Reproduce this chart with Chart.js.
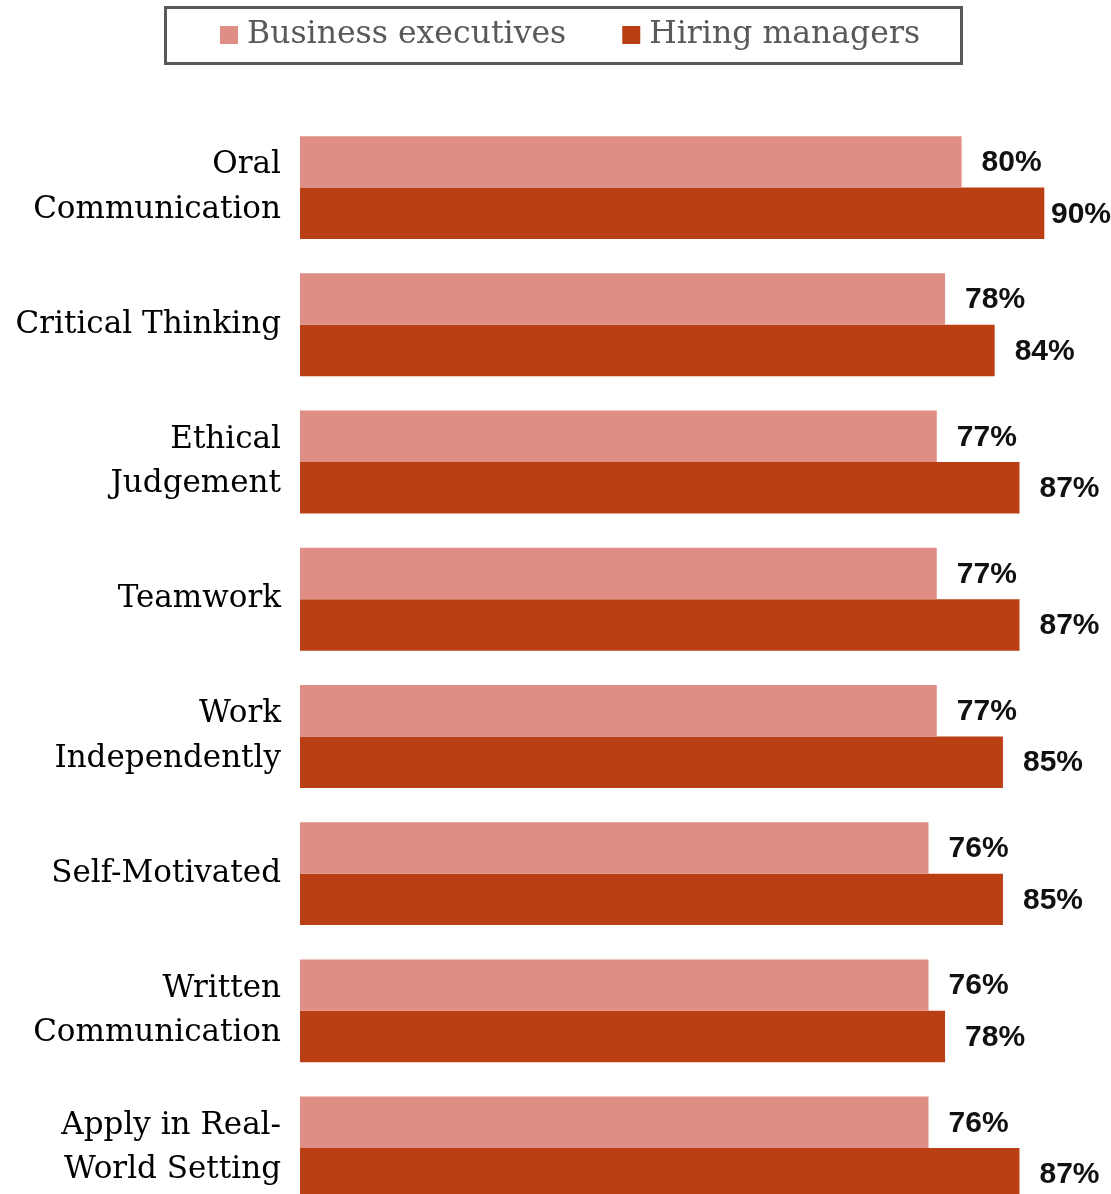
<!DOCTYPE html>
<html>
<head>
<meta charset="utf-8">
<script src="https://cdn.jsdelivr.net/npm/chart.js@4.4.1/dist/chart.umd.min.js"></script>
<style>
  html, body { margin: 0; padding: 0; background: #fff; overflow: hidden; }
  #wrap { width: 1111px; height: 1194px; overflow: hidden; }
</style>
</head>
<body>
<div id="wrap"><canvas id="skills_chart" width="1127" height="1280"></canvas></div>
<script>
// skill categories (multi-line labels as in the original)
var skills = [
    ['Oral', 'Communication'],
    'Critical Thinking',
    ['Ethical', 'Judgement'],
    'Teamwork',
    ['Work', 'Independently'],
    'Self-Motivated',
    ['Written', 'Communication'],
    ['Apply in Real-', 'World Setting']
];
var seriesNames = ['Business executives', 'Hiring managers'];
var execValues = [80, 78, 77, 77, 77, 76, 76, 76];
var hiringValues = [90, 84, 87, 87, 85, 85, 78, 87];

var PINK = '#df8e85';
var RUST = '#bb3f14';
var SERIF = '"DejaVu Serif", serif';
var VISIBLE_W = 1111;

// draws the boxed legend at the top
var boxLegend = {
    id: 'boxLegend',
    afterDraw: function (chart) {
        var ctx = chart.ctx;
        ctx.save();
        ctx.strokeStyle = '#595959';
        ctx.lineWidth = 3;
        ctx.strokeRect(165.5, 7.5, 796, 56);
        ctx.font = '31.5px ' + SERIF;
        ctx.textBaseline = 'middle';
        ctx.textAlign = 'left';
        var x = 220;
        chart.data.datasets.forEach(function (ds) {
            ctx.fillStyle = ds.backgroundColor;
            ctx.fillRect(x, 26, 18, 18);
            ctx.fillStyle = '#595959';
            ctx.fillText(ds.label, x + 27, 35);
            x += 27 + ctx.measureText(ds.label).width + 56;
        });
        ctx.restore();
    }
};

// percent labels at the end of each bar
var valueLabels = {
    id: 'valueLabels',
    afterDatasetsDraw: function (chart) {
        var ctx = chart.ctx;
        ctx.save();
        ctx.font = 'bold 30px "Liberation Sans", Arial, sans-serif';
        ctx.fillStyle = '#111';
        ctx.textBaseline = 'middle';
        ctx.textAlign = 'left';
        chart.data.datasets.forEach(function (ds, i) {
            chart.getDatasetMeta(i).data.forEach(function (bar, j) {
                var txt = ds.data[j] + '%';
                var w = ctx.measureText(txt).width;
                var x = Math.min(bar.x + 20, VISIBLE_W - w);
                ctx.fillText(txt, x, bar.y + 1);
            });
        });
        ctx.restore();
    }
};

var chx = document.getElementById('skills_chart');
var sChart = new Chart(chx, {
    type: 'bar',
    data: {
        labels: skills,
        datasets: [{
            label: seriesNames[0],
            data: execValues,
            backgroundColor: PINK,
            barPercentage: 1,
            categoryPercentage: 0.75
        }, {
            label: seriesNames[1],
            data: hiringValues,
            backgroundColor: RUST,
            barPercentage: 1,
            categoryPercentage: 0.75
        }]
    },
    options: {
        indexAxis: 'y',
        responsive: false,
        animation: false,
        devicePixelRatio: 1,
        layout: { padding: { top: 119, bottom: 0, left: 0, right: 0 } },
        plugins: {
            legend: { display: false },
            tooltip: { enabled: false }
        },
        scales: {
            x: {
                min: 0,
                max: 100,
                display: false
            },
            y: {
                grid: { display: false, drawTicks: false },
                border: { display: false },
                afterFit: function (scale) { scale.width = 300; },
                ticks: {
                    color: '#000',
                    padding: 19,
                    font: { family: SERIF, size: 31, lineHeight: 1.43 }
                }
            }
        }
    },
    plugins: [boxLegend, valueLabels]
});
</script>
</body>
</html>
